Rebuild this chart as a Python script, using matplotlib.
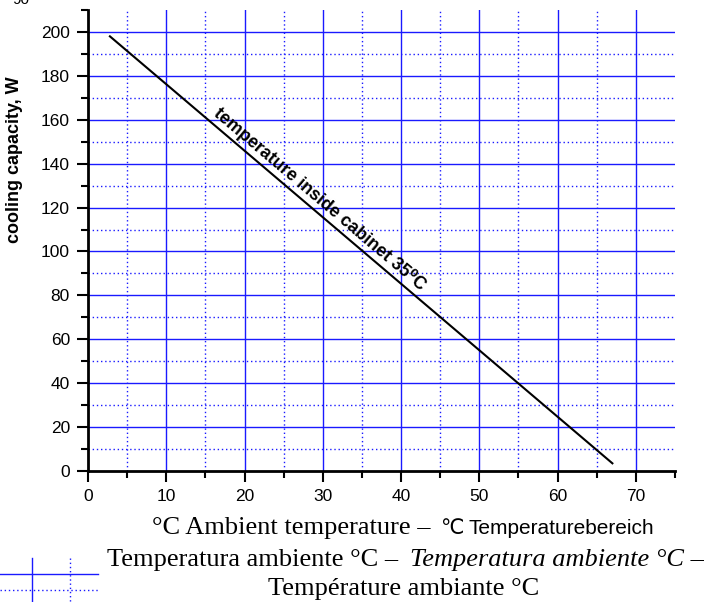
import numpy as np
import matplotlib
matplotlib.use("Agg")
import matplotlib.pyplot as plt
from matplotlib.lines import Line2D

# ------------------------------
# data
# ------------------------------
line_x = [2.8, 67.0]          # ambient temperature, °C
line_y = [198.0, 3.5]         # cooling capacity, W
line_label = "temperature inside cabinet 35\u2070C"

x_major = [0, 10, 20, 30, 40, 50, 60, 70]
x_minor = [5, 15, 25, 35, 45, 55, 65, 75]
y_major = [0, 20, 40, 60, 80, 100, 120, 140, 160, 180, 200]
y_minor = [10, 30, 50, 70, 90, 110, 130, 150, 170, 190, 210]

ylabel = "cooling capacity, W"
# (text, family, style, left px, baseline px)
caption = [
    ("\u00b0C Ambient temperature \u2013", "serif", "normal", 152, 534),
    ("\u2103", "sans", "normal", 440, 534),
    ("Temperaturebereich", "sans", "normal", 468, 534),
    ("Temperatura ambiente \u00b0C \u2013", "serif", "normal", 107, 566),
    ("Temperatura ambiente \u00b0C \u2013", "serif", "italic", 410, 566),
    ("Temp\u00e9rature ambiante \u00b0C", "serif", "normal", 268, 595),
]

W, H = 721, 602
plt.rcParams['font.family'] = ['Liberation Sans', 'DejaVu Sans']
fig = plt.figure(figsize=(W / 100, H / 100), dpi=100)
ax = fig.add_axes([88 / W, 131 / H, (675 - 88) / W, (471 - 10) / H])

blue = "#1a1aff"
for v in x_major[1:]:
    ax.axvline(v, color=blue, lw=1.0, zorder=1)
for v in x_minor[:-1]:
    ax.axvline(v, color=blue, lw=1.0, ls=(0, (1, 2)), zorder=1)
for v in y_major[1:]:
    ax.axhline(v, color=blue, lw=1.0, zorder=1)
for v in y_minor[:-1]:
    ax.axhline(v, color=blue, lw=1.0, ls=(0, (1, 2)), zorder=1)

ax.plot(line_x, line_y, color="black", lw=1.5, zorder=3)

ax.set_xlim(0, 75)
ax.set_ylim(0, 210)
ax.set_xticks(x_major)
ax.set_xticks(x_minor, minor=True)
ax.set_yticks(y_major)
ax.set_yticks(y_minor, minor=True)
ax.tick_params(which="major", direction="out", length=8, width=1.5, labelsize=12.5, pad=5)
ax.tick_params(which="minor", direction="out", length=5, width=1.5)
for s in ("top", "right"):
    ax.spines[s].set_visible(False)
for s in ("left", "bottom"):
    ax.spines[s].set_linewidth(2)

# label along the line
ax.text(29.6, 123.8, line_label, rotation=-40.3, rotation_mode="anchor",
        ha="center", va="center", fontsize=12.8, fontweight="bold", zorder=4)

fig.text(15 / W, 1 - 160 / H, ylabel, rotation=90, ha="center", va="center",
         fontsize=13, fontweight="bold")
fig.text(12 / W, 1 - 4 / H, "90", ha="left", va="baseline", fontsize=11)

# caption with mixed fonts
fams = {"serif": ["Liberation Serif", "DejaVu Serif"],
        "sans": ["Liberation Sans", "DejaVu Sans"]}
for txt, fam, style, left, base in caption:
    size = 19 if fam == "serif" else 15
    fig.text(left / W, 1 - base / H, txt, family=fams[fam], style=style,
             fontsize=size, ha="left", va="baseline")

# grid-style legend glyph in the lower left corner
for (x0, x1, y0, y1, ls) in [(0, 98, 574, 574, "-"), (0, 98, 590, 590, (0, (1, 2))),
                             (32, 32, 558, 602, "-"), (70, 70, 558, 602, (0, (1, 2)))]:
    fig.add_artist(Line2D([x0 / W, x1 / W], [1 - y0 / H, 1 - y1 / H],
                          color=blue, lw=1.0, ls=ls))

fig.savefig("out.png", dpi=100)
